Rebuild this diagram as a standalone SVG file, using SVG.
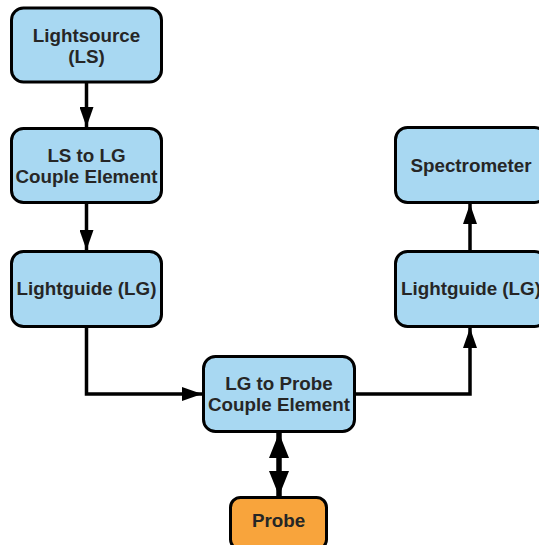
<svg xmlns="http://www.w3.org/2000/svg" width="539" height="545" viewBox="0 0 539 545">
<style>
.box{fill:#a8d8f2;stroke:#000;stroke-width:3}
.orange{fill:#f8a43c;stroke:#000;stroke-width:3}
.t{font-family:"Liberation Sans",Arial,sans-serif;font-weight:bold;font-size:18.8px;fill:#262626;text-anchor:middle}
.c{fill:none;stroke:#000;stroke-width:3.5}
.c2{fill:none;stroke:#000;stroke-width:5.5}
</style>
<defs>
<marker id="ah" markerUnits="userSpaceOnUse" markerWidth="20" markerHeight="14" refX="20" refY="7" orient="auto">
<path d="M0,0 L20,7 L0,14 Z" fill="#000"/>
</marker>
<marker id="ah2" markerUnits="userSpaceOnUse" markerWidth="25" markerHeight="20" refX="25" refY="10" orient="auto-start-reverse">
<path d="M0,0 L25,10 L0,20 Z" fill="#000"/>
</marker>
</defs>
<g id="connectors">
<path class="c" d="M86.5,83 V127" marker-end="url(#ah)"/>
<path class="c" d="M86.5,203 V250" marker-end="url(#ah)"/>
<path class="c" d="M86.5,327 V394 H202" marker-end="url(#ah)"/>
<path class="c" d="M355,394 H470 V328" marker-end="url(#ah)"/>
<path class="c" d="M470,252 V204" marker-end="url(#ah)"/>
<path class="c2" d="M279,433 V496" marker-start="url(#ah2)" marker-end="url(#ah2)"/>
</g>
<g id="lightsource">
<rect class="box" x="11.5" y="8" width="150" height="74" rx="12"/>
<text class="t" x="86.5" y="42">Lightsource</text>
<text class="t" x="86.5" y="63">(LS)</text>
</g>
<g id="ls-lg-couple">
<rect class="box" x="11.5" y="128.5" width="150" height="74" rx="12"/>
<text class="t" x="86.5" y="162">LS to LG</text>
<text class="t" x="86.5" y="183">Couple Element</text>
</g>
<g id="lightguide-left">
<rect class="box" x="11.5" y="251.5" width="150" height="75" rx="12"/>
<text class="t" x="86.5" y="295">Lightguide (LG)</text>
</g>
<g id="lg-probe-couple">
<rect class="box" x="203.5" y="356.5" width="151" height="75" rx="12"/>
<text class="t" x="279" y="390">LG to Probe</text>
<text class="t" x="279" y="411">Couple Element</text>
</g>
<g id="probe">
<rect class="orange" x="230.5" y="497.5" width="96" height="52" rx="10"/>
<text class="t" x="278.5" y="527">Probe</text>
</g>
<g id="spectrometer">
<rect class="box" x="395.5" y="127.5" width="151" height="75" rx="12"/>
<text class="t" x="471" y="172">Spectrometer</text>
</g>
<g id="lightguide-right">
<rect class="box" x="395.5" y="251.5" width="151" height="75" rx="12"/>
<text class="t" x="471" y="295">Lightguide (LG)</text>
</g>
</svg>
